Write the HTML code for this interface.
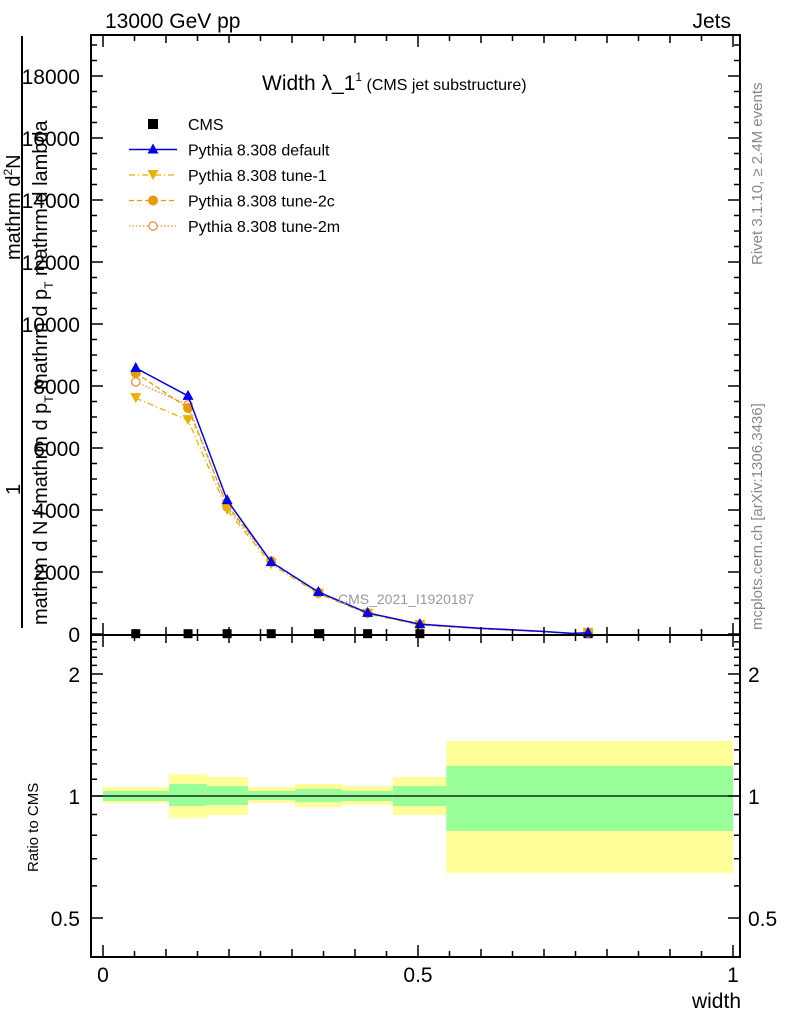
<!DOCTYPE html>
<html><head><meta charset="utf-8"><style>
body{margin:0;background:#fff}
svg{display:block;font-family:"Liberation Sans",sans-serif}
</style></head><body>
<svg id="c" width="786" height="1024" viewBox="0 0 786 1024" xmlns="http://www.w3.org/2000/svg">
<g id="bands"></g>
<g id="series"></g>
<g id="axes"></g>
<text x="105" y="28" font-size="21">13000 GeV pp</text>
<text x="731" y="28" font-size="21" text-anchor="end">Jets</text>
<text x="262" y="90" font-size="21">Width λ_1<tspan font-size="12" dy="-9">1</tspan><tspan font-size="16" dy="9"> (CMS jet substructure)</tspan></text>
<text x="338" y="604" font-size="14" fill="#999">CMS_2021_I1920187</text>
<text transform="translate(762,265) rotate(-90)" font-size="15" fill="#888">Rivet 3.1.10, ≥ 2.4M events</text>
<text transform="translate(762,630) rotate(-90)" font-size="15" fill="#888">mcplots.cern.ch [arXiv:1306.3436]</text>
<g font-size="20">
<line x1="22" y1="36" x2="22" y2="628" stroke="#000" stroke-width="2"/>
<text transform="translate(20,260) rotate(-90)">mathrm d<tspan font-size="12" dy="-8">2</tspan><tspan dy="8">N</tspan></text>
<text transform="translate(47,390) rotate(-90)">mathrm d p<tspan font-size="12" dy="6">T</tspan><tspan dy="-6"> mathrm d lambda</tspan></text>
<text transform="translate(20,495) rotate(-90)">1</text>
<text transform="translate(47,625) rotate(-90)">mathrm d N / mathrm d p<tspan font-size="12" dy="6">T</tspan></text>
</g>
<text transform="translate(38,872) rotate(-90)" font-size="15">Ratio to CMS</text>
<text x="741" y="1008" font-size="21" text-anchor="end">width</text>
<g id="legend"></g>
</svg>
<script>
const binEdges=[0,0.105,0.165,0.23,0.305,0.38,0.46,0.545,1];
const cmsX=[0.052,0.135,0.197,0.267,0.342,0.42,0.503,0.77];
const cmsY=[10,10,10,10,10,10,10,10];
const mcX=[0.052,0.135,0.197,0.267,0.342,0.42,0.503,0.595,0.694,0.745,0.77];
const mcDefault=[8580,7680,4320,2320,1355,680,320,190,90,20,40];
const mcTune1=[7610,6900,4000,2250,1300,650,290,170,80,15,35];
const mcTune2c=[8420,7290,4160,2350,1330,680,310,180,85,18,40];
const mcTune2m=[8130,7390,4100,2330,1320,670,300,175,85,18,38];
const yTicks=[0,2000,4000,6000,8000,10000,12000,14000,16000,18000];
const ratioTicks=[0.5,1,2];
const xTicks=[0,0.5,1];
const bandOuterHi=[1.052,1.133,1.114,1.052,1.071,1.058,1.114,1.367];
const bandOuterLo=[0.961,0.883,0.898,0.961,0.939,0.950,0.898,0.646];
const bandInnerHi=[1.029,1.071,1.058,1.029,1.041,1.029,1.058,1.186];
const bandInnerLo=[0.972,0.945,0.950,0.978,0.966,0.972,0.945,0.820];

const NS="http://www.w3.org/2000/svg";
const L=91,R=740,T=35,M=635,B=957;
const X=v=>103+v*630;
const Y=v=>634-v*0.031;
const RY=v=>796-Math.log2(v)*122;
function mk(tag,attrs,parent){const e=document.createElementNS(NS,tag);for(const k in attrs)e.setAttribute(k,attrs[k]);parent.appendChild(e);return e;}
const bands=document.getElementById('bands'),series=document.getElementById('series'),axes=document.getElementById('axes'),legend=document.getElementById('legend');

for(let i=0;i<binEdges.length-1;i++){
 const x1=X(binEdges[i]),x2=X(binEdges[i+1]);
 let r=mk('rect',{x:x1,y:RY(bandOuterHi[i]),width:x2-x1,height:RY(bandOuterLo[i])-RY(bandOuterHi[i]),fill:'#ffff99'},bands);
 
 
 r=mk('rect',{x:x1,y:RY(bandInnerHi[i]),width:x2-x1,height:RY(bandInnerLo[i])-RY(bandInnerHi[i]),fill:'#99ff99'},bands);
 
 
}
const one=mk('line',{x1:L,x2:R,y1:RY(1),y2:RY(1),stroke:'#000','stroke-width':1.3},bands);



let f=mk('rect',{x:L,y:T,width:R-L,height:M-T,fill:'none',stroke:'#000','stroke-width':2},axes);


f=mk('rect',{x:L,y:M,width:R-L,height:B-M,fill:'none',stroke:'#000','stroke-width':2},axes);


let d='';
for(let v=0;v<=19000;v+=500){const y=Y(v);if(y<T)break;const len=v%2000===0?12:6;d+=`M${L} ${y}h${len}M${R} ${y}h${-len}`;}
for(let k=0;k<=20;k++){const v=k*0.05;const x=X(v);const len=(k%10===0)?12:(k%2===0?8:6);
 d+=`M${x} ${M}v${-len}M${x} ${T}v${len}M${x} ${B}v${-len}M${x} ${M}v${len}`;}
[0.4,0.5,0.6,0.7,0.8,0.9,1,1.1,1.2,1.3,1.4,1.5,1.6,1.7,1.8,1.9,2,2.1,2.2,2.3,2.4,2.5].forEach(v=>{const y=RY(v);if(y<M||y>B)return;const len=ratioTicks.includes(v)?12:6;d+=`M${L} ${y}h${len}M${R} ${y}h${-len}`;});
const tk=mk('path',{d:d,stroke:'#000','stroke-width':1.5,fill:'none'},axes);


yTicks.forEach(v=>{const t=mk('text',{x:80,y:Y(v)+8,'font-size':21,'text-anchor':'end'},axes);t.textContent=v;
 
 });
ratioTicks.forEach(v=>{[[80,'end'],[748,'start']].forEach(([x,a])=>{const t=mk('text',{x:x,y:RY(v)+8,'font-size':21,'text-anchor':a},axes);t.textContent=v;
 
 });});
xTicks.forEach(v=>{const t=mk('text',{x:X(v),y:982,'font-size':21,'text-anchor':'middle'},axes);t.textContent=v;
 
 });

cmsX.forEach((x,i)=>{const r=mk('rect',{x:X(x)-4.5,y:Y(cmsY[i])-4.5,width:9,height:9,fill:'#000'},series);
 
 });

function marker(kind,x,y,c,p){let e;
 if(kind==='up')e=mk('path',{d:`M${x} ${y-6}L${x+5.5} ${y+4}L${x-5.5} ${y+4}Z`,fill:c},p);
 else if(kind==='down')e=mk('path',{d:`M${x} ${y+5}L${x+5.5} ${y-5}L${x-5.5} ${y-5}Z`,fill:c},p);
 else if(kind==='dot')e=mk('circle',{cx:x,cy:y,r:5,fill:c},p);
 else e=mk('circle',{cx:x,cy:y,r:4.2,fill:'#fff',stroke:c,'stroke-width':1.3},p);
 return e;}
const defs=[
 {name:'pythia-default',vals:mcDefault,c:'#0000ee',dash:'',m:'up',w:1.5},
 {name:'pythia-tune-1',vals:mcTune1,c:'#e8b000',dash:'6 3 1 3',m:'down',w:1.3},
 {name:'pythia-tune-2c',vals:mcTune2c,c:'#e89a00',dash:'5 3',m:'dot',w:1.3},
 {name:'pythia-tune-2m',vals:mcTune2m,c:'#e89040',dash:'1.5 2',m:'open',w:1.3}];
const markIdx=[0,1,2,3,4,5,6,10];
defs.slice().reverse().forEach(s=>{
 const g=mk('g',{},series);
 
 
 const pts=mcX.map((x,i)=>X(x)+','+Y(s.vals[i])).join(' ');
 const pl=mk('polyline',{points:pts,fill:'none',stroke:s.c,'stroke-width':s.w,'stroke-dasharray':s.dash},g);
 
 
 markIdx.forEach(i=>{const e=marker(s.m,X(mcX[i]),Y(s.vals[i]),s.c,g);
  
  });
});

const labels=['CMS','Pythia 8.308 default','Pythia 8.308 tune-1','Pythia 8.308 tune-2c','Pythia 8.308 tune-2m'];
labels.forEach((lab,i)=>{const y=124+i*25.5;
 const g=mk('g',{},legend);
 
 
 if(i===0){mk('rect',{x:148,y:y-5,width:10,height:10,fill:'#000'},g);}
 else{const s=defs[i-1];mk('line',{x1:129,x2:177,y1:y,y2:y,stroke:s.c,'stroke-width':s.w,'stroke-dasharray':s.dash},g);marker(s.m,153,y,s.c,g);}
 const t=mk('text',{x:188,y:y+6,'font-size':16},g);t.textContent=lab;});
</script>
</body></html>
